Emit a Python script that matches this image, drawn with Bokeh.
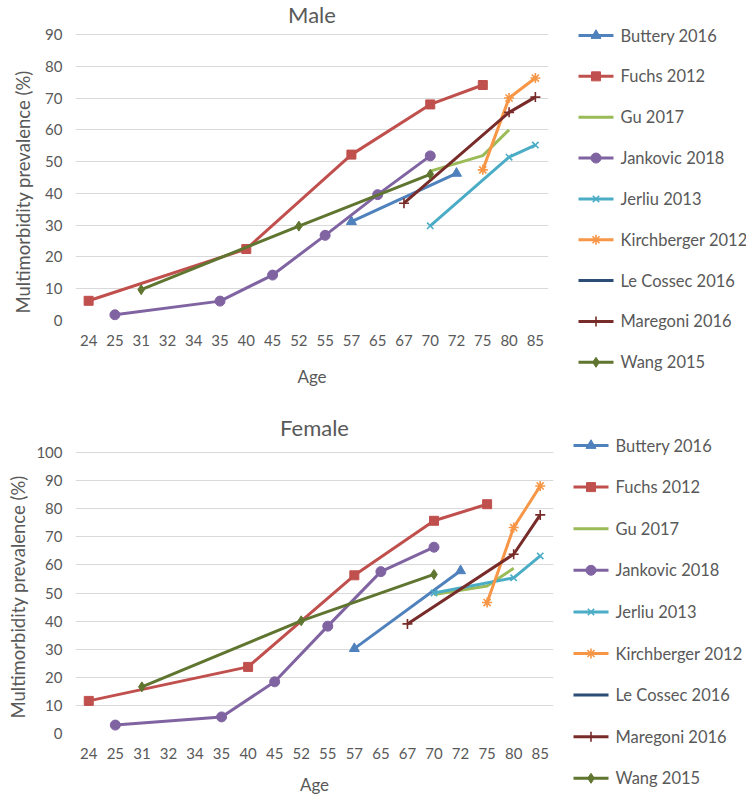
from bokeh.plotting import figure
from bokeh.models import FactorRange, Range1d, FixedTicker, Title
from bokeh.core.properties import value
from bokeh.layouts import column, row
from bokeh.embed import file_html
from bokeh.resources import INLINE

N = None
ages = ["24", "25", "31", "32", "34", "35", "40", "45", "52", "55",
        "57", "65", "67", "70", "72", "75", "80", "85"]

names = ["Buttery 2016", "Fuchs 2012", "Gu 2017", "Jankovic 2018", "Jerliu 2013",
         "Kirchberger 2012", "Le Cossec 2016", "Maregoni 2016", "Wang 2015"]

#               24   25   31   32   34   35   40   45   52   55   57   65   67   70   72   75   80   85
male_buttery = [N,   N,   N,   N,   N,   N,   N,   N,   N,   N,   31.1, N,  N,   N,   46.3, N,  N,   N]
male_fuchs   = [6.2, N,   N,   N,   N,   N,   22.5, N,  N,   N,   52.2, N,  N,   68.0, N,  74.1, N,  N]
male_gu      = [N,   N,   N,   N,   N,   N,   N,   N,   N,   N,   N,   N,   N,   47.0, N,  51.9, 60.0, N]
male_jank    = [N,   1.8, N,   N,   N,   6.1, N,   14.3, N,  26.8, N,   39.6, N,  51.8, N,  N,   N,   N]
male_jerliu  = [N,   N,   N,   N,   N,   N,   N,   N,   N,   N,   N,   N,   N,   29.8, N,  N,   51.4, 55.2]
male_kirch   = [N,   N,   N,   N,   N,   N,   N,   N,   N,   N,   N,   N,   N,   N,   N,   47.4, 70.0, 76.3]
male_lecos   = [N,   N,   N,   N,   N,   N,   N,   N,   N,   N,   N,   N,   N,   N,   N,   N,   N,   N]
male_mareg   = [N,   N,   N,   N,   N,   N,   N,   N,   N,   N,   N,   N,   36.9, N,  N,   N,   65.5, 70.3]
male_wang    = [N,   N,   9.7, N,   N,   N,   N,   N,   29.7, N,  N,   N,   N,   46.0, N,  N,   N,   N]

fem_buttery  = [N,   N,   N,   N,   N,   N,   N,   N,   N,   N,   30.2, N,  N,   N,   57.9, N,  N,   N]
fem_fuchs    = [11.6, N,  N,   N,   N,   N,   23.7, N,  N,   N,   56.3, N,  N,   75.7, N,  81.6, N,  N]
fem_gu       = [N,   N,   N,   N,   N,   N,   N,   N,   N,   N,   N,   N,   N,   49.5, N,  52.5, 58.8, N]
fem_jank     = [N,   3.0, N,   N,   N,   5.9, N,   18.4, N,  38.2, N,   57.6, N,  66.3, N,  N,   N,   N]
fem_jerliu   = [N,   N,   N,   N,   N,   N,   N,   N,   N,   N,   N,   N,   N,   50.0, N,  N,   55.4, 63.2]
fem_kirch    = [N,   N,   N,   N,   N,   N,   N,   N,   N,   N,   N,   N,   N,   N,   N,   46.6, 73.3, 88.1]
fem_lecos    = [N,   N,   N,   N,   N,   N,   N,   N,   N,   N,   N,   N,   N,   N,   N,   N,   N,   N]
fem_mareg    = [N,   N,   N,   N,   N,   N,   N,   N,   N,   N,   N,   N,   39.0, N,  N,   N,   63.8, 77.8]
fem_wang     = [N,   N,   16.6, N,  N,   N,   N,   N,   40.1, N,  N,   N,   N,   56.6, N,  N,   N,   N]

male_yticks = [0, 10, 20, 30, 40, 50, 60, 70, 80, 90]
fem_yticks = [0, 10, 20, 30, 40, 50, 60, 70, 80, 90, 100]

colors = ["#4F81BD", "#C0504D", "#9BBB59", "#8064A2", "#4BACC6",
          "#F79646", "#2C4D75", "#772C2A", "#5F7530"]
markers = ["triangle", "square", None, "circle", "x", "asterisk", None, "cross", "diamond"]
msizes = [10, 9, 0, 10, 9, 10, 0, 10, 10]
mlw = [1, 1, 1, 1, 1.6, 1.6, 1, 1.6, 1]

FONT = "Lato"
TXT = "#595959"
GRID = "#D9D9D9"
TOTAL_W = 738


def panel(title, series, yticks, fw, top_gap, axis_h, bottom, ylab_standoff,
          ylab_offset, title_y, age_standoff, leg_x0, leg_y0, leg_pitch):
    # frame starts at the very top; the empty band above the top tick holds the title
    ymax = yticks[-1]
    px_per_unit = axis_h / float(ymax - yticks[0])
    fh = top_gap + axis_h
    yend = ymax + top_gap / px_per_unit
    p = figure(x_range=FactorRange(*ages), y_range=Range1d(yticks[0], yend),
               frame_width=fw, frame_height=fh, min_border_left=64,
               min_border_right=10, min_border_top=0,
               min_border_bottom=bottom, output_backend="svg",
               toolbar_location=None)
    p.outline_line_color = None
    p.xgrid.grid_line_color = None
    p.ygrid.grid_line_color = GRID
    p.ygrid.grid_line_width = 1
    p.yaxis.ticker = FixedTicker(ticks=yticks)
    for ax in (p.xaxis[0], p.yaxis[0]):
        ax.axis_line_color = None
        ax.major_tick_line_color = None
        ax.minor_tick_line_color = None
        ax.major_label_text_font = FONT
        ax.major_label_text_font_size = "15px"
        ax.major_label_text_color = TXT
    p.yaxis.major_label_standoff = 7
    p.xaxis.major_label_standoff = 8
    p.xaxis.axis_label = "Age"
    p.xaxis.axis_label_standoff = age_standoff
    p.xaxis.axis_label_text_font = FONT
    p.xaxis.axis_label_text_font_size = "17px"
    p.xaxis.axis_label_text_font_style = "normal"
    p.xaxis.axis_label_text_color = TXT

    ytitle = Title(text="Multimorbidity prevalence (%)", align="left",
                   offset=ylab_offset, standoff=ylab_standoff,
                   text_font=FONT, text_font_size="18.5px",
                   text_font_style="normal", text_color=TXT)
    p.add_layout(ytitle, "left")

    # chart title, centred over the plot area
    cat_w = fw / len(ages)
    p.text([ages[len(ages) // 2]], [yend - title_y / px_per_unit], text=[title],
           x_offset=-cat_w / 2, text_align="center", text_baseline="middle",
           text_font=value(FONT), text_font_size="22px", text_color=TXT)

    for vals, c, m, ms, lw in zip(series, colors, markers, msizes, mlw):
        xs = [a for a, v in zip(ages, vals) if v is not None]
        ys = [v for v in vals if v is not None]
        p.line(xs, ys, line_color=c, line_width=3)
        if m is not None:
            p.scatter(xs, ys, marker=m, size=ms, fill_color=c,
                      line_color=c, line_width=lw)

    # legend panel (pixel coordinates, y downwards)
    main_w = 64 + fw + 10
    main_h = fh + bottom
    lw_ = TOTAL_W - main_w
    q = figure(x_range=Range1d(0, lw_), y_range=Range1d(main_h, 0),
               frame_width=lw_, frame_height=main_h, min_border=0,
               x_axis_location=None, y_axis_location=None,
               output_backend="svg", toolbar_location=None)
    q.outline_line_color = None
    q.xgrid.grid_line_color = None
    q.ygrid.grid_line_color = None
    for i, (n, c, m, ms, lw) in enumerate(zip(names, colors, markers, msizes, mlw)):
        y = leg_y0 + i * leg_pitch
        q.line([leg_x0, leg_x0 + 35], [y, y], line_color=c, line_width=3)
        if m is not None:
            q.scatter([leg_x0 + 17.5], [y], marker=m, size=ms, fill_color=c,
                      line_color=c, line_width=lw)
        q.text([leg_x0 + 42], [y], text=[n], text_baseline="middle",
               text_align="left", text_font=value(FONT), text_font_size="16.5px",
               text_color=TXT)
    return row(p, q, spacing=0)


male = [male_buttery, male_fuchs, male_gu, male_jank, male_jerliu,
        male_kirch, male_lecos, male_mareg, male_wang]
fem = [fem_buttery, fem_fuchs, fem_gu, fem_jank, fem_jerliu,
       fem_kirch, fem_lecos, fem_mareg, fem_wang]

r1 = panel("Male", male, male_yticks, 473, 34, 286, 86, 18, 7, 14, 17, 20, 35, 40.85)
r2 = panel("Female", fem, fem_yticks, 478, 46, 281, 64, 9, 15, 21, 12, 10, 39, 41.6)

layout = column(r1, r2, spacing=0)
open("out.html", "w").write(file_html(layout, INLINE))
